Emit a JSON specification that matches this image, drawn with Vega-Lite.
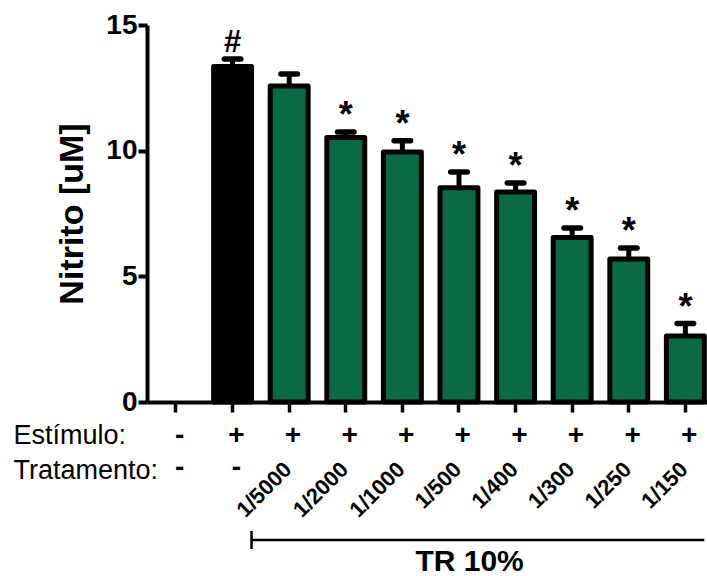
{
  "$schema": "https://vega.github.io/schema/vega-lite/v6.json",
  "autosize": "none",
  "width": 560,
  "height": 377,
  "padding": {"left": 147, "top": 25, "right": 0, "bottom": 174},
  "background": "white",
  "config": {
    "view": {"stroke": null},
    "font": "Liberation Sans",
    "axis": {"grid": false, "domainColor": "black", "tickColor": "black", "labelColor": "black", "titleColor": "black"},
    "axisX": {
      "labels": false,
      "domainWidth": 4,
      "tickWidth": 3.5,
      "tickSize": 10,
      "titleFontSize": 27,
      "titleFontWeight": "normal",
      "titleLineHeight": 35,
      "titleAlign": "left",
      "titleAnchor": "start",
      "titleBaseline": "alphabetic",
      "titleX": -134,
      "titleY": 41
    },
    "axisY": {
      "domainWidth": 4,
      "tickWidth": 4,
      "tickSize": 9,
      "labelFontSize": 28,
      "labelFontWeight": "bold",
      "labelPadding": 1,
      "titleFontSize": 34,
      "titleFontWeight": "bold",
      "titleAngle": 270,
      "titleAlign": "center",
      "titleBaseline": "alphabetic",
      "titleX": -65,
      "titleY": 188.5
    }
  },
  "datasets": {
    "grupos": [
      {"grupo": "Basal", "estimulo": "-", "tratamento": "-", "nitrito": null, "limite": null, "sig": "", "serie": "basal"},
      {"grupo": "Estímulo", "estimulo": "+", "tratamento": "-", "nitrito": 13.35, "limite": 13.65, "sig": "#", "serie": "estimulo"},
      {"grupo": "1/5000", "estimulo": "+", "tratamento": "1/5000", "nitrito": 12.57, "limite": 13.05, "sig": "", "serie": "TR"},
      {"grupo": "1/2000", "estimulo": "+", "tratamento": "1/2000", "nitrito": 10.52, "limite": 10.74, "sig": "*", "serie": "TR"},
      {"grupo": "1/1000", "estimulo": "+", "tratamento": "1/1000", "nitrito": 9.95, "limite": 10.39, "sig": "*", "serie": "TR"},
      {"grupo": "1/500", "estimulo": "+", "tratamento": "1/500", "nitrito": 8.52, "limite": 9.15, "sig": "*", "serie": "TR"},
      {"grupo": "1/400", "estimulo": "+", "tratamento": "1/400", "nitrito": 8.36, "limite": 8.71, "sig": "*", "serie": "TR"},
      {"grupo": "1/300", "estimulo": "+", "tratamento": "1/300", "nitrito": 6.55, "limite": 6.92, "sig": "*", "serie": "TR"},
      {"grupo": "1/250", "estimulo": "+", "tratamento": "1/250", "nitrito": 5.69, "limite": 6.13, "sig": "*", "serie": "TR"},
      {"grupo": "1/150", "estimulo": "+", "tratamento": "1/150", "nitrito": 2.63, "limite": 3.12, "sig": "*", "serie": "TR"}
    ],
    "faixa": [
      {"inicio": "Estímulo", "fim": "1/150", "centro": "1/500", "rotulo": "TR 10%"}
    ]
  },
  "data": {"name": "grupos"},
  "encoding": {
    "x": {
      "field": "grupo",
      "type": "nominal",
      "sort": null,
      "title": ["Estímulo:", "Tratamento:"],
      "scale": {
        "domain": ["Basal", "Estímulo", "1/5000", "1/2000", "1/1000", "1/500", "1/400", "1/300", "1/250", "1/150"],
        "paddingInner": 0.33,
        "paddingOuter": 0.112,
        "align": 0.79
      }
    }
  },
  "layer": [
    {
      "mark": {"type": "bar", "stroke": "black", "strokeWidth": 5, "strokeJoin": "round"},
      "encoding": {
        "y": {
          "field": "nitrito",
          "type": "quantitative",
          "title": "Nitrito [uM]",
          "scale": {"domain": [0, 15], "nice": false},
          "axis": {"values": [0, 5, 10, 15]}
        },
        "color": {
          "field": "serie",
          "type": "nominal",
          "scale": {"domain": ["basal", "estimulo", "TR"], "range": ["#ffffff", "#000000", "#086B45"]},
          "legend": null
        }
      }
    },
    {
      "mark": {"type": "rule", "strokeWidth": 5, "color": "black"},
      "encoding": {
        "y": {"field": "nitrito", "type": "quantitative", "title": "Nitrito [uM]"},
        "y2": {"field": "limite"}
      }
    },
    {
      "mark": {"type": "tick", "size": 22, "thickness": 5.5, "color": "black", "cornerRadius": 2.5, "opacity": 1},
      "encoding": {
        "y": {"field": "limite", "type": "quantitative", "title": "Nitrito [uM]"}
      }
    },
    {
      "transform": [{"filter": "datum.sig == '#'"}],
      "mark": {"type": "text", "fontSize": 31, "fontWeight": "bold", "baseline": "alphabetic", "dy": -7, "color": "black"},
      "encoding": {
        "y": {"field": "limite", "type": "quantitative", "title": "Nitrito [uM]"},
        "text": {"field": "sig"}
      }
    },
    {
      "transform": [{"filter": "datum.sig == '*'"}],
      "mark": {"type": "text", "fontSize": 36, "fontWeight": "bold", "baseline": "alphabetic", "dy": -5, "color": "black"},
      "encoding": {
        "y": {"field": "limite", "type": "quantitative", "title": "Nitrito [uM]"},
        "text": {"field": "sig"}
      }
    },
    {
      "mark": {"type": "text", "fontSize": 28, "fontWeight": "bold", "baseline": "alphabetic", "color": "black"},
      "encoding": {
        "x": {"field": "grupo", "type": "nominal", "sort": null, "bandPosition": 0.6, "title": ["Estímulo:", "Tratamento:"]},
        "y": {"datum": -1.67, "type": "quantitative", "title": "Nitrito [uM]"},
        "text": {"field": "estimulo"}
      }
    },
    {
      "transform": [{"filter": "datum.tratamento == '-'"}],
      "mark": {"type": "text", "fontSize": 28, "fontWeight": "bold", "baseline": "alphabetic", "color": "black"},
      "encoding": {
        "x": {"field": "grupo", "type": "nominal", "sort": null, "bandPosition": 0.6, "title": ["Estímulo:", "Tratamento:"]},
        "y": {"datum": -2.96, "type": "quantitative", "title": "Nitrito [uM]"},
        "text": {"field": "tratamento"}
      }
    },
    {
      "transform": [{"filter": "datum.tratamento != '-'"}],
      "mark": {"type": "text", "fontSize": 22, "fontWeight": "bold", "baseline": "alphabetic", "align": "right", "angle": 315, "color": "black"},
      "encoding": {
        "x": {"field": "grupo", "type": "nominal", "sort": null, "bandPosition": 0.6, "title": ["Estímulo:", "Tratamento:"]},
        "y": {"datum": -2.74, "type": "quantitative", "title": "Nitrito [uM]"},
        "text": {"field": "tratamento"}
      }
    },
    {
      "data": {"name": "faixa"},
      "mark": {"type": "rule", "strokeWidth": 2.5, "color": "black"},
      "encoding": {
        "x": {"field": "inicio", "type": "nominal", "bandPosition": 1, "title": ["Estímulo:", "Tratamento:"]},
        "x2": {"field": "fim", "bandPosition": 1},
        "y": {"datum": -5.49, "type": "quantitative", "title": "Nitrito [uM]"}
      }
    },
    {
      "data": {"name": "faixa"},
      "mark": {"type": "rule", "strokeWidth": 2.5, "color": "black"},
      "encoding": {
        "x": {"field": "inicio", "type": "nominal", "bandPosition": 1, "title": ["Estímulo:", "Tratamento:"]},
        "y": {"datum": -5.13, "type": "quantitative", "title": "Nitrito [uM]"},
        "y2": {"datum": -5.85}
      }
    },
    {
      "data": {"name": "faixa"},
      "mark": {"type": "text", "fontSize": 30, "fontWeight": "bold", "baseline": "alphabetic", "align": "center", "color": "black"},
      "encoding": {
        "x": {"field": "centro", "type": "nominal", "bandPosition": 0.78, "title": ["Estímulo:", "Tratamento:"]},
        "y": {"datum": -6.72, "type": "quantitative", "title": "Nitrito [uM]"},
        "text": {"field": "rotulo"}
      }
    }
  ]
}
